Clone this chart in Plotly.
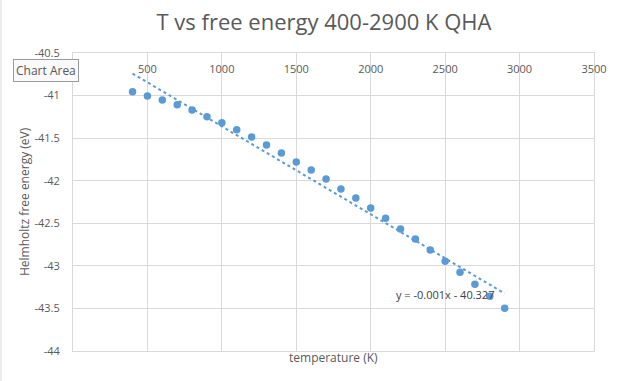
import numpy as np
import plotly.graph_objects as go

temperature = [400, 500, 600, 700, 800, 900, 1000, 1100, 1200, 1300, 1400, 1500, 1600,
               1700, 1800, 1900, 2000, 2100, 2200, 2300, 2400, 2500, 2600, 2700, 2800, 2900]
free_energy = [-40.956, -41.004, -41.051, -41.109, -41.168, -41.250, -41.320, -41.400,
               -41.486, -41.580, -41.674, -41.780, -41.874, -41.980, -42.098, -42.204,
               -42.320, -42.440, -42.568, -42.686, -42.815, -42.945, -43.074, -43.215,
               -43.356, -43.498]
x_ticks = [500, 1000, 1500, 2000, 2500, 3000, 3500]
y_ticks = [-40.5, -41, -41.5, -42, -42.5, -43, -43.5, -44]
y_tick_labels = ["-40.5", "-41", "-41.5", "-42", "-42.5", "-43", "-43.5", "-44"]
title_text = "T vs free energy 400-2900 K QHA"
x_title = "temperature (K)"
y_title = "Helmholtz free energy (eV)"
equation_text = "y = -0.001x - 40.327"

slope, intercept = np.polyfit(temperature, free_energy, 1)
trend_x = [min(temperature), max(temperature)]
trend_y = [slope * t + intercept for t in trend_x]

BLUE = "#5b9bd5"
GRID = "#d9d9d9"
TXT = "#595959"
FONT = "Open Sans"

fig = go.Figure()
fig.add_trace(go.Scatter(x=temperature, y=free_energy, mode="markers",
                         marker=dict(color=BLUE, size=7.5), showlegend=False))
fig.add_trace(go.Scatter(x=trend_x, y=trend_y, mode="lines",
                         line=dict(color=BLUE, width=2, dash="dot"), showlegend=False))

W, H = 619, 381
L, R, T, B = 73, 25, 53, 30
fig.update_layout(
    width=W, height=H,
    margin=dict(l=L, r=R, t=T, b=B),
    paper_bgcolor="white", plot_bgcolor="white",
    font=dict(family=FONT, color=TXT, size=11),
    title=dict(text=title_text, x=324 / W, xanchor="center", y=1 - 22 / H, yanchor="middle",
               font=dict(family=FONT, size=22, color=TXT)),
    xaxis=dict(range=[0, 3500], tickvals=x_ticks, side="top",
               ticklabelposition="inside", ticklabeloverflow="allow",
               showgrid=True, gridcolor=GRID, gridwidth=1, zeroline=False,
               showline=True, mirror=True, linecolor=GRID, linewidth=1,
               tickfont=dict(size=11, color=TXT), ticks="", ticklabelstandoff=12),
    yaxis=dict(range=[-44, -40.5], tickvals=y_ticks, ticktext=y_tick_labels,
               showgrid=True, gridcolor=GRID, gridwidth=1, zeroline=False,
               showline=True, mirror=True, linecolor=GRID, linewidth=1,
               tickfont=dict(size=11, color=TXT), ticks="", ticklabelstandoff=10),
)
pw = W - L - R
ph = H - T - B
fig.add_annotation(text=x_title, xref="paper", yref="paper", x=(333 - L) / pw,
                   y=-(357 - (H - B)) / ph, showarrow=False,
                   font=dict(size=12, color=TXT), yanchor="middle")
fig.add_annotation(text=y_title, xref="paper", yref="paper", x=-(73 - 24) / pw,
                   y=0.5, textangle=-90, showarrow=False,
                   font=dict(size=12, color=TXT), xanchor="center")
fig.add_annotation(text=equation_text, xref="paper", yref="paper",
                   x=(445 - L) / pw, y=1 - (294 - T) / ph, showarrow=False,
                   font=dict(size=11, color="#404040"), xanchor="center", yanchor="middle")
# "Chart Area" tooltip visible in the reference screenshot
fig.add_annotation(text="Chart Area", xref="paper", yref="paper",
                   x=(46 - L) / pw, y=1 - (70 - T) / ph, showarrow=False,
                   font=dict(size=12, color="#575757"), xanchor="center", yanchor="middle",
                   bgcolor="#fafafa", bordercolor="#9a9a9a", borderwidth=1, borderpad=2)
# chart border on left edge
fig.add_shape(type="line", xref="paper", yref="paper",
              x0=-(L - 1) / pw, x1=-(L - 1) / pw, y0=-B / ph, y1=1 + T / ph,
              line=dict(color=GRID, width=1))

fig.write_html("out.html", config={"displayModeBar": False},
               post_script="document.body.style.margin='0';")
